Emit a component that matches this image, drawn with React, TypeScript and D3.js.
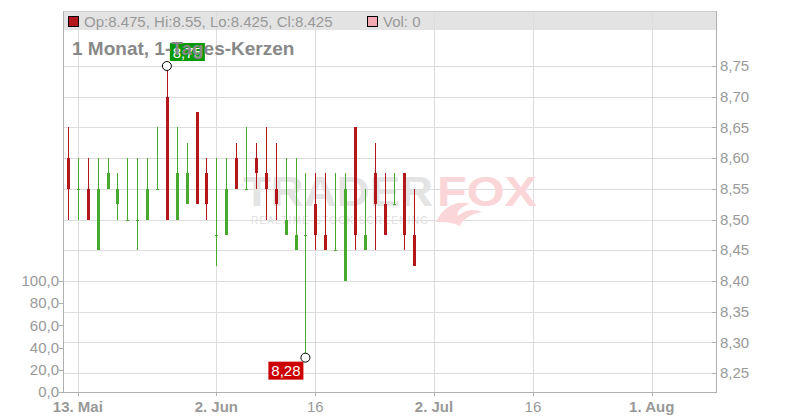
import React from "react";
import * as d3 from "d3";

// ---- data (1-day candles, trading-day index 0 = 12 May) ----
const dates = [
  "2025-05-12", "2025-05-13", "2025-05-14", "2025-05-15", "2025-05-16",
  "2025-05-19", "2025-05-20", "2025-05-21", "2025-05-22", "2025-05-23",
  "2025-05-26", "2025-05-27", "2025-05-28", "2025-05-29", "2025-05-30",
  "2025-06-02", "2025-06-03", "2025-06-04", "2025-06-05", "2025-06-06",
  "2025-06-09", "2025-06-10", "2025-06-11", "2025-06-12", "2025-06-13",
  "2025-06-16", "2025-06-17", "2025-06-18", "2025-06-19", "2025-06-20",
  "2025-06-23", "2025-06-24", "2025-06-25", "2025-06-26", "2025-06-27",
  "2025-06-30",
];
const openP = [8.6, 8.55, 8.55, 8.45, 8.55, 8.525, 8.5, 8.5, 8.5, 8.55, 8.7, 8.5, 8.525, 8.675, 8.575, 8.475, 8.475, 8.6, 8.55, 8.6, 8.575, 8.55, 8.475, 8.45, 8.475, 8.525, 8.475, 8.45, 8.4, 8.65, 8.45, 8.575, 8.525, 8.525, 8.575, 8.475];
const highP = [8.65, 8.6, 8.6, 8.6, 8.6, 8.575, 8.6, 8.6, 8.6, 8.65, 8.75, 8.65, 8.625, 8.675, 8.6, 8.6, 8.6, 8.625, 8.65, 8.625, 8.65, 8.625, 8.6, 8.6, 8.575, 8.575, 8.575, 8.575, 8.575, 8.65, 8.55, 8.625, 8.575, 8.575, 8.575, 8.55];
const lowP = [8.5, 8.5, 8.5, 8.45, 8.55, 8.5, 8.5, 8.45, 8.5, 8.55, 8.5, 8.5, 8.525, 8.525, 8.5, 8.425, 8.475, 8.55, 8.55, 8.55, 8.5, 8.5, 8.475, 8.45, 8.275, 8.45, 8.45, 8.45, 8.4, 8.45, 8.45, 8.45, 8.475, 8.525, 8.45, 8.425];
const closeP = [8.55, 8.55, 8.5, 8.55, 8.575, 8.55, 8.5, 8.5, 8.55, 8.55, 8.5, 8.575, 8.575, 8.525, 8.525, 8.475, 8.55, 8.55, 8.55, 8.575, 8.55, 8.525, 8.5, 8.475, 8.475, 8.475, 8.45, 8.45, 8.55, 8.475, 8.475, 8.525, 8.475, 8.525, 8.475, 8.425];
const volumes = dates.map(() => 0);

const priceTicks = [8.25, 8.3, 8.35, 8.4, 8.45, 8.5, 8.55, 8.6, 8.65, 8.7, 8.75];
const volTicks = [0, 20, 40, 60, 80, 100];
const xTickLabels = ["13. Mai", "2. Jun", "16", "2. Jul", "16", "1. Aug"];
const xTickIndex = [1, 15, 25, 37, 47, 59];
const xTickBold = [true, true, false, true, false, true];
const highLabel = "8,75";
const lowLabel = "8,28";
const titleText = "1 Monat, 1-Tages-Kerzen";

// ---- layout ----
const W = 800, H = 420;
const L = 63, R = 716, T = 11, B = 392;
const HEADER_B = 30;
const SLOTS = 66;

const RED = "#b3171a";
const GREEN = "#47aa2f";
const GRID = "#dddddd";
const AXIS = "#b0b0b0";
const LABEL = "#999999";
const FONT = "'Liberation Sans', Arial, Helvetica, sans-serif";

export default function App() {
  const x = d3.scaleLinear().domain([-0.5, SLOTS - 0.5]).range([L, R]);
  const y = d3.scaleLinear().domain([8.25, 8.75]).range([373, 66]);
  const yv = d3.scaleLinear().domain([0, 100]).range([B, 281]);
  const fmtP = (v: number) => d3.format(".2f")(v).replace(".", ",");
  const fmtV = (v: number) => d3.format(".1f")(v).replace(".", ",");

  const n = dates.length;
  const last = n - 1;
  const hiIdx = d3.maxIndex(highP);
  const loIdx = d3.minIndex(lowP);

  const candles = dates.map((d, i) => {
    const cx = Math.round(x(i));
    const up = closeP[i] >= openP[i];
    const color = up ? GREEN : RED;
    const yTop = y(Math.max(openP[i], closeP[i]));
    const yBot = y(Math.min(openP[i], closeP[i]));
    const bh = Math.max(1, Math.round(yBot) - Math.round(yTop));
    return (
      <g key={d}>
        <rect x={cx} y={Math.round(y(highP[i]))} width={1}
          height={Math.round(y(lowP[i])) - Math.round(y(highP[i]))} fill={color} />
        <rect x={cx - 1} y={Math.round(yTop)} width={3} height={bh} fill={color} />
      </g>
    );
  });

  const hx = x(hiIdx), hy = y(highP[hiIdx]);
  const lx = x(loIdx), ly = y(lowP[loIdx]);

  return (
    <svg width={W} height={H} style={{ position: "absolute", left: 0, top: 0, display: "block", background: "#fff" }}
      fontFamily={FONT}>
      {/* header bar */}
      <rect x={L} y={T} width={R - L} height={HEADER_B - T} fill="#e3e3e3" />

      {/* horizontal grid */}
      {priceTicks.map((p) => (
        <line key={"hg" + p} x1={L} x2={R} y1={Math.round(y(p)) + 0.5} y2={Math.round(y(p)) + 0.5} stroke={GRID} />
      ))}
      {/* vertical grid */}
      {xTickIndex.map((i) => (
        <line key={"vg" + i} x1={Math.round(x(i)) + 0.5} x2={Math.round(x(i)) + 0.5} y1={T} y2={B} stroke={GRID} />
      ))}

      {/* watermark */}
      <g>
        <text x={243} y={206} fontSize={43} fontWeight="bold" fill="#e4e4e4" textLength={190} lengthAdjust="spacingAndGlyphs">TRADER</text>
        <text x={437} y={206} fontSize={43} fontWeight="bold" fill="#fbd6d8" textLength={100} lengthAdjust="spacingAndGlyphs">FOX</text>
        <path d="M436,222 C444,205 458,200 470,204 C462,206 456,211 458,216 C464,210 474,208 482,212 C470,214 462,220 460,226 C452,222 444,222 436,222 Z" fill="#fbd6d8" />
        <text x={251} y={224} fontSize={10} fill="#dedede" textLength={177} lengthAdjust="spacing">REALTIME STOCK SCREENING</text>
      </g>

      {/* volume bars (all zero) */}
      {volumes.map((v, i) => (
        <rect key={"v" + i} x={Math.round(x(i)) - 1} y={yv(v)} width={3} height={B - yv(v)} fill="#f0a8b0" />
      ))}

      {/* candles */}
      {candles}

      {/* border / axes */}
      <line x1={L} x2={R} y1={T + 0.5} y2={T + 0.5} stroke="#cccccc" />
      <line x1={L + 0.5} x2={L + 0.5} y1={T} y2={B} stroke={AXIS} />
      <line x1={R + 0.5} x2={R + 0.5} y1={T} y2={B} stroke={AXIS} />
      <line x1={L} x2={R + 1} y1={B + 0.5} y2={B + 0.5} stroke={AXIS} />

      {/* right price axis */}
      {priceTicks.map((p) => (
        <g key={"pt" + p}>
          <line x1={R - 4} x2={R} y1={Math.round(y(p)) + 0.5} y2={Math.round(y(p)) + 0.5} stroke={AXIS} />
          <text x={720} y={y(p)} dy="0.35em" fontSize={15} fill={LABEL}>{fmtP(p)}</text>
        </g>
      ))}

      {/* left volume axis */}
      {volTicks.map((v) => (
        <g key={"vt" + v}>
          <line x1={L - 4} x2={L} y1={Math.round(yv(v)) + 0.5} y2={Math.round(yv(v)) + 0.5} stroke={AXIS} />
          <text x={59} y={yv(v)} dy="0.35em" fontSize={15} fill={LABEL} textAnchor="end">{fmtV(v)}</text>
        </g>
      ))}

      {/* x axis */}
      {xTickIndex.map((i, k) => (
        <g key={"xt" + k}>
          <line x1={Math.round(x(i)) + 0.5} x2={Math.round(x(i)) + 0.5} y1={B} y2={B + 4} stroke={AXIS} />
          <text x={x(i)} y={412} fontSize={15} fill={LABEL} textAnchor="middle"
            fontWeight={xTickBold[k] ? "bold" : "normal"}>{xTickLabels[k]}</text>
        </g>
      ))}

      {/* high / low markers */}
      <rect x={hx + 3} y={hy - 23} width={35} height={18} fill="#009900" />
      <text x={hx + 20.5} y={hy - 8.5} fontSize={15} fill="#fff" textAnchor="middle">{highLabel}</text>
      <circle cx={hx} cy={hy} r={4.5} fill="#fff" stroke="#000" />

      <rect x={lx - 37} y={ly + 4} width={35} height={18} fill="#cc0000" />
      <text x={lx - 19.5} y={ly + 18.5} fontSize={15} fill="#fff" textAnchor="middle">{lowLabel}</text>
      <circle cx={lx} cy={ly} r={4.5} fill="#fff" stroke="#000" />

      {/* title */}
      <text x={72} y={55} fontSize={19} fontWeight="bold" fill="#888888">{titleText}</text>

      {/* header legend */}
      <rect x={68.5} y={16.5} width={10} height={10} fill={RED} stroke="#000" />
      <text x={84} y={26.5} fontSize={15} fill={LABEL}>
        {`Op:${openP[last]}, Hi:${highP[last]}, Lo:${lowP[last]}, Cl:${closeP[last]}`}
      </text>
      <rect x={367.5} y={16.5} width={10} height={10} fill="#f2a9b2" stroke="#000" />
      <text x={383} y={26.5} fontSize={15} fill={LABEL}>{`Vol: ${volumes[last]}`}</text>
    </svg>
  );
}
